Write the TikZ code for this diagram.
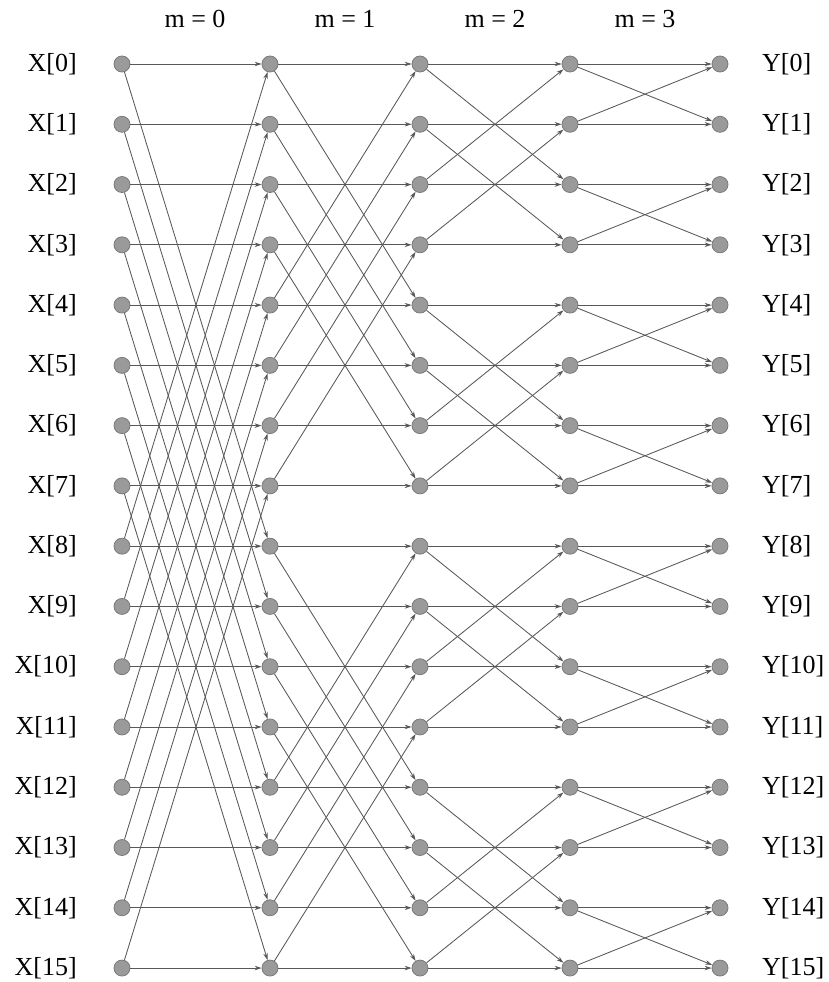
\documentclass[tikz,border=0pt]{standalone}
\usepackage{fontspec}
\setmainfont{Liberation Serif}
\usetikzlibrary{arrows.meta}
\definecolor{nodegray}{HTML}{9A9A9A}
\definecolor{nodeborder}{HTML}{7A7A7A}
\definecolor{linegray}{HTML}{585858}
\begin{document}
\begin{tikzpicture}[x=1pt,y=-1pt,
  dot/.style={circle,fill=nodegray,draw=nodeborder,line width=0.8pt,minimum size=16pt,inner sep=0pt},
  wire/.style={draw=linegray,line width=0.85pt,-{Stealth[length=7pt,width=4.5pt]}},
  lab/.style={font=\fontsize{26}{30}\selectfont,inner sep=0pt}]
\useasboundingbox (0,0) rectangle (828,982);
\foreach \c/\x in {0/122,1/270,2/420,3/570,4/720}{
  \foreach \r in {0,...,15}{
    \node[dot] (n-\c-\r) at (\x,{64+60.27*\r}) {};
  }}
\foreach \r in {0,...,15}{
  \node[lab,anchor=east] (x-\r) at (77,{64+60.27*\r}) {X[\r]};
  \node[lab,anchor=west] (y-\r) at (762,{64+60.27*\r}) {Y[\r]};
}
\foreach \m/\x in {0/195,1/345,2/495,3/645}{
  \node[lab] (m-\m) at (\x,19) {m = \m};
}
\foreach \m in {0,...,3}{
  \pgfmathtruncatemacro\s{8/2^\m}
  \pgfmathtruncatemacro\nx{\m+1}
  \foreach \r in {0,...,15}{
    \pgfmathtruncatemacro\p{mod(floor(\r/\s),2)==0 ? \r+\s : \r-\s}
    \draw[wire] (n-\m-\r) -- (n-\nx-\r);
    \draw[wire] (n-\m-\r) -- (n-\nx-\p);
  }}
\end{tikzpicture}
\end{document}
